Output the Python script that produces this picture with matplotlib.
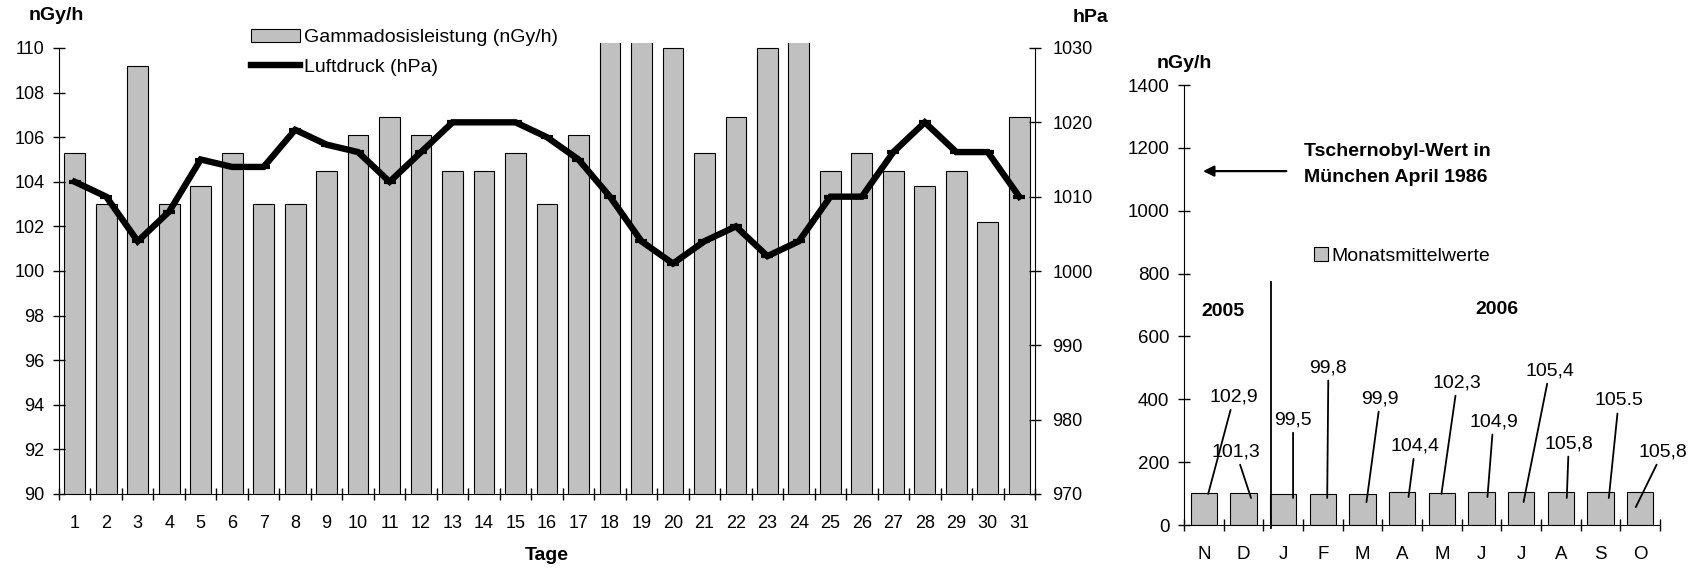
import matplotlib
matplotlib.use("Agg")
import matplotlib.pyplot as plt
import numpy as np

plt.rcParams['font.family'] = ['Liberation Sans', 'DejaVu Sans']

# ---------------- data ----------------
days = list(range(1, 32))
gamma = [105.3, 103.0, 109.2, 103.0, 103.8, 105.3, 103.0, 103.0, 104.5, 106.1,
         106.9, 106.1, 104.5, 104.5, 105.3, 103.0, 106.1, 111.0, 111.0, 110.0,
         105.3, 106.9, 110.0, 111.0, 104.5, 105.3, 104.5, 103.8, 104.5, 102.2,
         106.9]
pressure = [1012, 1010, 1004, 1008, 1015, 1014, 1014, 1019, 1017, 1016,
            1012, 1016, 1020, 1020, 1020, 1018, 1015, 1010, 1004, 1001,
            1004, 1006, 1002, 1004, 1010, 1010, 1016, 1020, 1016, 1016,
            1010]

months = ['N', 'D', 'J', 'F', 'M', 'A', 'M', 'J', 'J', 'A', 'S', 'O']
monthly = [102.9, 101.3, 99.5, 99.8, 99.9, 104.4, 102.3, 104.9, 105.4, 105.8, 105.5, 105.8]
monthly_labels = ['102,9', '101,3', '99,5', '99,8', '99,9', '104,4', '102,3',
                  '104,9', '105,4', '105,8', '105.5', '105,8']
# label text positions (category, value) and leader end points
label_pos = [(0.76, 407), (0.81, 232), (2.25, 334), (3.14, 500), (4.45, 401),
             (5.33, 251), (6.39, 452), (7.30, 328), (8.72, 490), (9.20, 258),
             (10.46, 395), (11.57, 232)]
leader_end = [(0.11, 99), (1.19, 86), (2.25, 86), (3.11, 86), (4.10, 73),
              (5.16, 89), (5.99, 99), (7.15, 89), (8.06, 73), (9.15, 86),
              (10.21, 86), (10.89, 57)]
tschernobyl_level = 1126

W, H = 1689, 568
fig = plt.figure(figsize=(W / 100, H / 100), dpi=100)

def fx(px):
    return px / W

def fy(py):
    return 1 - py / H

BAR = '#C0C0C0'
FS = 13
FSR = 13.5
FST = 14

# ---------------- left chart ----------------
top_clip = 42.7
ax = fig.add_axes([fx(59), fy(494), (1035 - 59) / W, (494 - top_clip) / H])
ymax = 110 + (48 - top_clip) / ((494 - 48) / 20)
ax.set_xlim(0.5, 31.5)
ax.set_ylim(90, ymax)
bars = ax.bar(days, gamma, width=0.66, color=BAR, edgecolor='black', linewidth=0.8,
              label='Gammadosisleistung (nGy/h)')
ax.set_yticks(np.arange(90, 111, 2))
ax.set_xticks(days)
ax.set_xticks(np.arange(0.5, 32, 1), minor=True)
ax.tick_params(axis='x', which='major', length=0, labelsize=FS, pad=15)
ax.tick_params(axis='x', which='minor', length=9, direction='inout', width=1)
ax.tick_params(axis='y', length=9, direction='inout', width=1, labelsize=FS, pad=6)
for s in ['top', 'right']:
    ax.spines[s].set_visible(False)
ax.spines['left'].set_bounds(90, 110)

ax2 = ax.twinx()
ax2.set_ylim(970, 970 + 3 * (ymax - 90))
line, = ax2.plot(days, pressure, color='black', linewidth=4.6, marker='_',
                 markersize=9, markeredgewidth=3, solid_joinstyle='miter',
                 label='Luftdruck (hPa)')
ax2.set_yticks(np.arange(970, 1031, 10))
ax2.tick_params(axis='y', length=9, direction='inout', width=1, labelsize=FS, pad=8)
for s in ['top', 'left', 'bottom']:
    ax2.spines[s].set_visible(False)
ax2.spines['right'].set_bounds(970, 1030)

fig.text(fx(56), fy(15), 'nGy/h', fontsize=FST, fontweight='bold', ha='center', va='center')
fig.text(fx(1090), fy(17), 'hPa', fontsize=FST, fontweight='bold', ha='center', va='center')
fig.text(fx(547), fy(556), 'Tage', fontsize=FST, fontweight='bold', ha='center', va='center')

fig.legend([bars, line], ['Gammadosisleistung (nGy/h)', 'Luftdruck (hPa)'],
           loc='upper left', bbox_to_anchor=(fx(251), fy(29)), frameon=False,
           fontsize=14, handlelength=2.5, handleheight=0.62, handletextpad=0.2,
           labelspacing=0.65, borderpad=0, borderaxespad=0)

# ---------------- right chart ----------------
axR = fig.add_axes([fx(1184), fy(525), 476 / W, 440 / H])
x = np.arange(len(months))
mb = axR.bar(x, monthly, width=0.66, color=BAR, edgecolor='black', linewidth=0.8)
axR.set_xlim(-0.5, 11.5)
axR.set_ylim(0, 1400)
axR.set_yticks(np.arange(0, 1401, 200))
axR.set_xticks(x)
axR.set_xticklabels(months)
axR.set_xticks(np.arange(-0.5, 12, 1), minor=True)
axR.tick_params(axis='x', which='major', length=0, labelsize=FSR, pad=15)
axR.tick_params(axis='x', which='minor', length=9, direction='inout', width=1)
axR.tick_params(axis='y', length=9, direction='inout', width=1, labelsize=FSR, pad=6)
for s in ['top', 'right']:
    axR.spines[s].set_visible(False)

for lab, (tx, ty), (px, py) in zip(monthly_labels, label_pos, leader_end):
    axR.annotate(lab, xy=(px, py), xytext=(tx, ty), fontsize=14, ha='center', va='center',
                 arrowprops=dict(arrowstyle='-', color='black', lw=1.3,
                                 shrinkA=1, shrinkB=0))

axR.plot([1.7, 1.7], [773, -8], color='black', lw=1.3, clip_on=False)
axR.text(0.48, 678, '2005', fontsize=FST, fontweight='bold', ha='center', va='center')
axR.text(7.40, 687, '2006', fontsize=FST, fontweight='bold', ha='center', va='center')

axR.annotate('', xy=(-0.02, tschernobyl_level), xytext=(2.08, tschernobyl_level),
             arrowprops=dict(arrowstyle='-|>', color='black', lw=1.6,
                             mutation_scale=16, shrinkA=0, shrinkB=0))
fig.text(fx(1304), fy(151), 'Tschernobyl-Wert in', fontsize=FST, fontweight='bold',
         ha='left', va='center')
fig.text(fx(1304), fy(177), 'München April 1986', fontsize=FST, fontweight='bold',
         ha='left', va='center')
fig.text(fx(1184), fy(63), 'nGy/h', fontsize=FST, fontweight='bold', ha='center', va='center')

axR.legend([mb], ['Monatsmittelwerte'], loc='center left',
           bbox_to_anchor=((1314 - 1184) / 476, 856 / 1400), frameon=False,
           fontsize=14, handlelength=0.7, handleheight=0.7, handletextpad=0.2,
           borderpad=0, borderaxespad=0)

fig.savefig('out.png', dpi=100)
